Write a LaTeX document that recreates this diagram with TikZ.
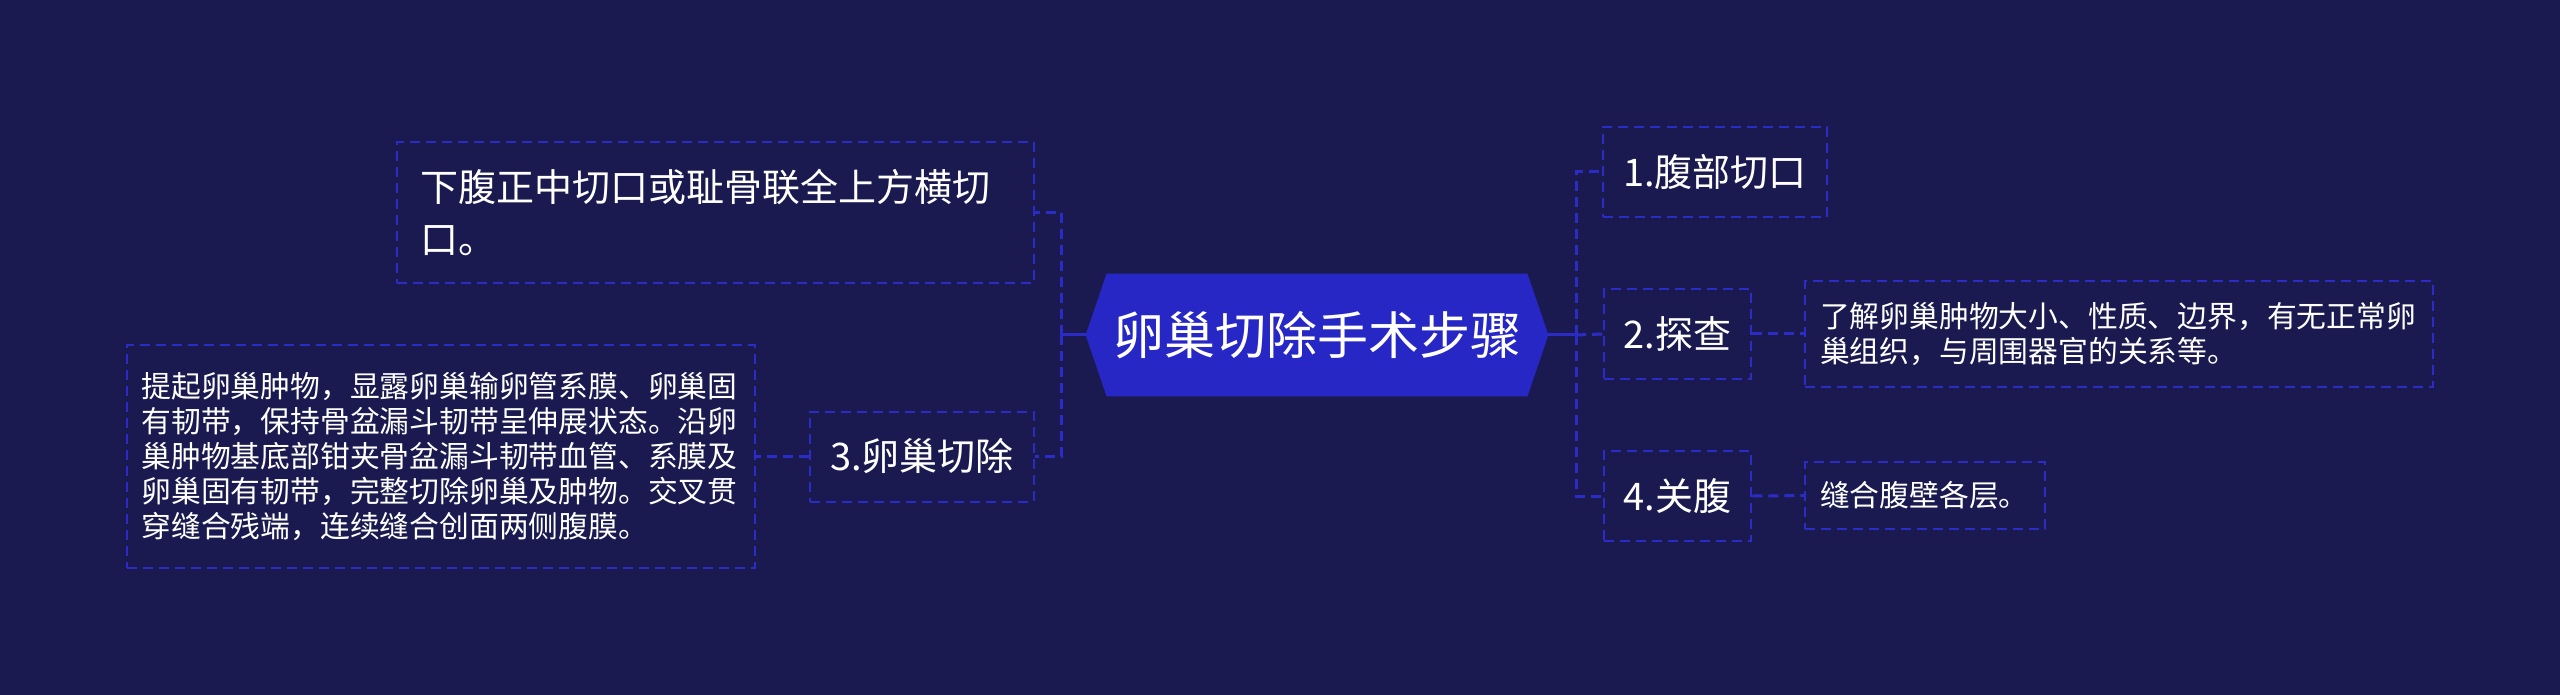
\documentclass[tikz,border=0pt]{standalone}
\usepackage{fontspec}
\setmainfont{Noto Sans CJK SC}
\usepackage{tikz}
\usetikzlibrary{calc, backgrounds}
\definecolor{bgnavy}{HTML}{1A1A50}
\definecolor{linkblue}{HTML}{2B2BC6}
\definecolor{rootblue}{HTML}{2727C6}
\tikzset{
  rootnode/.style={text=white, inner sep=0pt, minimum width=210pt, minimum height=61pt,
      font=\fontsize{25.5}{30}\selectfont},
  stepbox/.style={draw=linkblue, line width=1pt, dash pattern=on 5pt off 3pt, text=white,
      inner xsep=10pt, minimum height=45pt, font=\fontsize{19}{26}\selectfont},
  notebox/.style={draw=linkblue, line width=1pt, dash pattern=on 5pt off 3pt, text=white,
      align=left, inner xsep=7.5pt, text width=299pt, font=\fontsize{14.9}{17.5}\selectfont},
  stem/.style={draw=linkblue, line width=1.5pt},
  link/.style={draw=linkblue, line width=1.5pt, dash pattern=on 5pt off 3pt},
}

\begin{document}
\begin{tikzpicture}[x=0.5pt, y=-0.5pt]
  \useasboundingbox (0,0) rectangle (2560,695);
  \node[rootnode] (root) at (1317,335) {卵巢切除手术步骤};
  \coordinate (rootL) at ($(root.west)+(-21,0)$);
  \coordinate (rootR) at ($(root.east)+(21,0)$);
  \begin{scope}[on background layer]
    \fill[bgnavy] (0,0) rectangle (2560,695);
    \fill[rootblue] (root.north west) -- (root.north east) -- (rootR) -- (root.south east)
      -- (root.south west) -- (rootL) -- cycle;
  \end{scope}
  % left side
  \node[notebox, text width=295.5pt, inner xsep=11.5pt, minimum height=70.5pt,
    font=\fontsize{19}{26}\selectfont] (inc) at (715.5,212.5)
    {下腹正中切口或耻骨联全上方横切\\口。};
  \node[stepbox] (cut) at (922,456.5) {3.卵巢切除};
  \node[notebox, minimum height=111.5pt] (d3) at (440.5,456.5)
    {提起卵巢肿物，显露卵巢输卵管系膜、卵巢固\\有韧带，保持骨盆漏斗韧带呈伸展状态。沿卵\\巢肿物基底部钳夹骨盆漏斗韧带血管、系膜及\\卵巢固有韧带，完整切除卵巢及肿物。交叉贯\\穿缝合残端，连续缝合创面两侧腹膜。};
  % right side
  \node[stepbox] (s1) at (1715,172) {1.腹部切口};
  \node[stepbox] (s2) at (1677.5,334) {2.探查};
  \node[stepbox] (s4) at (1677.5,496) {4.关腹};
  \node[notebox, minimum height=53pt] (d2) at (2119,334)
    {了解卵巢肿物大小、性质、边界，有无正常卵\\巢组织，与周围器官的关系等。};
  \node[notebox, text width=105pt, minimum height=33.5pt] (d4) at (1925,495.5)
    {缝合腹壁各层。};
  % connectors
  \coordinate (lj) at (1061,335);
  \coordinate (rj) at (1576,335);
  \draw[stem] (rootL) -- (lj);
  \draw[link] (lj) |- (inc.east);
  \draw[link] (lj) |- (cut.east);
  \draw[link] (cut.west) -- (d3.east);
  \draw[stem] (rootR) -- (rj);
  \draw[link] (rj) |- (s1.west);
  \draw[link] (rj) -- (s2.west);
  \draw[link] (rj) |- (s4.west);
  \draw[link] (s2.east) -- (d2.west);
  \draw[link] (s4.east) -- (d4.west);
\end{tikzpicture}
\end{document}
